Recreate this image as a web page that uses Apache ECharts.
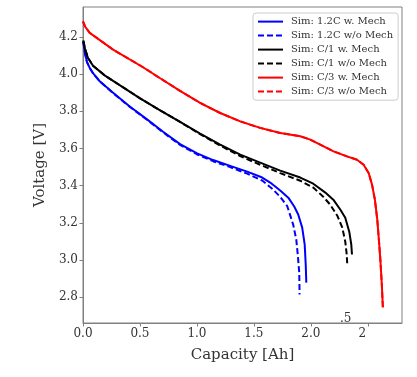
<!DOCTYPE html>
<html lang="en">
<head>
    <meta charset="UTF-8">
    <title>Voltage vs Capacity</title>
    <script src="https://cdn.jsdelivr.net/npm/echarts@6/dist/echarts.min.js"></script>
    <style>
        html, body { margin: 0; padding: 0; background: #fff; }
        #main { width: 417px; height: 377px; }
    </style>
</head>
<body>
    <div id="main"></div>
    <script>
        // 曲线数据：容量 [Ah] 与电压 [V]
        var blueWCap = [0.003, 0.018, 0.035, 0.062, 0.088, 0.149, 0.264, 0.413, 0.562, 0.703, 0.852, 1.002, 1.142, 1.292, 1.441, 1.573, 1.643, 1.731, 1.802, 1.854, 1.889, 1.924, 1.946, 1.955, 1.960];
        var blueWV   = [4.172, 4.110, 4.065, 4.030, 4.005, 3.960, 3.900, 3.825, 3.757, 3.690, 3.624, 3.574, 3.538, 3.507, 3.476, 3.444, 3.417, 3.374, 3.336, 3.288, 3.245, 3.175, 3.083, 2.976, 2.879];

        var blueOCap = [0.003, 0.018, 0.035, 0.062, 0.088, 0.149, 0.264, 0.413, 0.562, 0.703, 0.852, 1.002, 1.142, 1.292, 1.441, 1.573, 1.661, 1.731, 1.793, 1.845, 1.872, 1.885, 1.898, 1.901];
        var blueOV   = [4.172, 4.110, 4.065, 4.030, 4.005, 3.960, 3.898, 3.823, 3.755, 3.687, 3.620, 3.568, 3.532, 3.500, 3.465, 3.428, 3.384, 3.340, 3.290, 3.191, 3.110, 3.030, 2.933, 2.815];

        var blackWCap = [0.003, 0.018, 0.044, 0.088, 0.193, 0.325, 0.501, 0.677, 0.852, 1.028, 1.204, 1.380, 1.555, 1.731, 1.907, 2.021, 2.127, 2.197, 2.258, 2.302, 2.337, 2.355, 2.361];
        var blackWV   = [4.180, 4.135, 4.087, 4.045, 3.992, 3.940, 3.870, 3.805, 3.743, 3.680, 3.621, 3.567, 3.524, 3.481, 3.444, 3.411, 3.363, 3.325, 3.272, 3.228, 3.153, 3.083, 3.030];

        var blackOCap = [0.003, 0.018, 0.044, 0.088, 0.193, 0.325, 0.501, 0.677, 0.852, 1.028, 1.204, 1.380, 1.555, 1.731, 1.907, 2.021, 2.109, 2.170, 2.232, 2.276, 2.302, 2.315, 2.320];
        var blackOV   = [4.180, 4.135, 4.087, 4.045, 3.992, 3.940, 3.870, 3.805, 3.743, 3.677, 3.616, 3.559, 3.513, 3.468, 3.427, 3.390, 3.341, 3.298, 3.239, 3.175, 3.099, 3.030, 2.970];

        var redWCap = [0.000, 0.018, 0.059, 0.264, 0.527, 0.677, 0.852, 1.028, 1.204, 1.380, 1.555, 1.731, 1.907, 1.995, 2.112, 2.199, 2.317, 2.405, 2.463, 2.507, 2.537, 2.562, 2.583, 2.597, 2.610, 2.623, 2.632];
        var redWV   = [4.284, 4.256, 4.222, 4.132, 4.037, 3.978, 3.910, 3.845, 3.791, 3.746, 3.711, 3.684, 3.666, 3.648, 3.612, 3.585, 3.558, 3.540, 3.513, 3.469, 3.406, 3.325, 3.218, 3.110, 3.003, 2.868, 2.745];

        var redOCap = [0.000, 0.018, 0.059, 0.264, 0.527, 0.677, 0.852, 1.028, 1.204, 1.380, 1.555, 1.731, 1.907, 1.995, 2.112, 2.199, 2.317, 2.405, 2.463, 2.507, 2.537, 2.562, 2.583, 2.597, 2.610, 2.623, 2.632];
        var redOV   = [4.284, 4.256, 4.222, 4.132, 4.037, 3.978, 3.910, 3.845, 3.791, 3.746, 3.711, 3.684, 3.666, 3.648, 3.612, 3.585, 3.558, 3.540, 3.513, 3.469, 3.406, 3.325, 3.218, 3.110, 3.003, 2.868, 2.745];

        var xTicks = [0, 0.5, 1.0, 1.5, 2.0, 2.5];
        var yTicks = [2.8, 3.0, 3.2, 3.4, 3.6, 3.8, 4.0, 4.2];

        function zip(a, b) {
            return a.map(function (v, i) { return [v, b[i]]; });
        }

        var font = 'DejaVu Serif';
        var spine = '#808080';
        var dash = [6, 3];

        function mkLine(name, color, cap, v, dashed) {
            return {
                name: name,
                type: 'line',
                data: zip(cap, v),
                showSymbol: false,
                symbol: 'none',
                clip: true,
                lineStyle: { color: color, width: 2, type: dashed ? dash : 'solid', join: 'round' },
                itemStyle: { color: color }
            };
        }

        var myChart = echarts.init(document.getElementById('main'));

        myChart.setOption({
            animation: false,
            grid: {
                left: 83, top: 7, right: 15, bottom: 54,
                show: true, borderColor: spine, borderWidth: 1
            },
            legend: {
                orient: 'vertical',
                left: 253, top: 13,
                itemWidth: 25, itemHeight: 14, itemGap: 2.8,
                padding: [3, 5, 3, 4],
                backgroundColor: 'rgba(255,255,255,0.85)',
                borderColor: '#cccccc', borderWidth: 1, borderRadius: 3,
                itemStyle: { opacity: 0 },
                textStyle: { fontFamily: font, fontSize: 10, color: '#333', padding: [0, 0, 0, 3] },
                data: ['Sim: 1.2C w. Mech', 'Sim: 1.2C w/o Mech', 'Sim: C/1 w. Mech', 'Sim: C/1 w/o Mech', 'Sim: C/3 w. Mech', 'Sim: C/3 w/o Mech']
            },
            xAxis: {
                type: 'value',
                min: 0, max: 2.8,
                name: 'Capacity [Ah]',
                nameLocation: 'middle',
                nameGap: 25,
                nameTextStyle: { fontFamily: font, fontSize: 15, color: '#333' },
                axisLine: { lineStyle: { color: spine } },
                axisTick: { show: true, length: 3.5, customValues: xTicks, lineStyle: { color: spine } },
                axisLabel: {
                    customValues: xTicks,
                    margin: 5,
                    fontFamily: font, fontSize: 12, color: '#333',
                    formatter: function (v) {
                        if (Math.abs(v - 2.5) < 1e-6) return '{t|2}';
                        return v.toFixed(1);
                    },
                    rich: { t: { fontFamily: font, fontSize: 12, color: '#333', padding: [0, 11, 0, 0] } }
                },
                splitLine: { show: false }
            },
            yAxis: {
                type: 'value',
                min: 2.662, max: 4.361,
                name: 'Voltage [V]',
                nameLocation: 'middle',
                nameGap: 35,
                nameTextStyle: { fontFamily: font, fontSize: 15, color: '#333' },
                axisLine: { show: true, lineStyle: { color: spine } },
                axisTick: { show: true, length: 3.5, customValues: yTicks, lineStyle: { color: spine } },
                axisLabel: {
                    customValues: yTicks,
                    margin: 5,
                    fontFamily: font, fontSize: 12, color: '#333',
                    formatter: function (v) { return v.toFixed(1); }
                },
                splitLine: { show: false }
            },
            graphic: [{
                type: 'text', left: 340, top: 313, z: 100,
                style: { text: '.5', font: '12px "DejaVu Serif"', fill: '#333' }
            }],
            series: [
                mkLine('Sim: 1.2C w. Mech', '#0000ff', blueWCap, blueWV, false),
                mkLine('Sim: 1.2C w/o Mech', '#0000ff', blueOCap, blueOV, true),
                mkLine('Sim: C/1 w. Mech', '#000000', blackWCap, blackWV, false),
                mkLine('Sim: C/1 w/o Mech', '#000000', blackOCap, blackOV, true),
                mkLine('Sim: C/3 w. Mech', '#ff0000', redWCap, redWV, false),
                mkLine('Sim: C/3 w/o Mech', '#ff0000', redOCap, redOV, true)
            ]
        });
    </script>
</body>
</html>
